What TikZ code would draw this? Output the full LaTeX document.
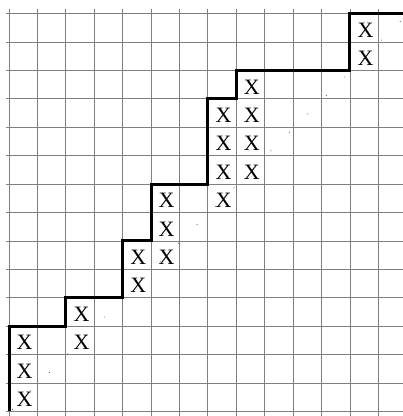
\documentclass[tikz,border=0pt]{standalone}
\usepackage{fontspec}
\setmainfont{Liberation Serif}
\usetikzlibrary{positioning}

\begin{document}
\begin{tikzpicture}[gridline/.style={gray,line width=0.7pt},
  walk/.style={line width=3pt,line join=miter},
  cellx/.style={inner sep=0pt,font=\fontsize{22}{22}\selectfont}]
  \clip (-0.317,-0.165) rectangle (13.87,14.48);
  \draw[gridline] (-0.1,-0.2) grid (13.9,14.17);
  % diagonal of small dots
  \foreach \k in {0,...,21} {\fill ({0.12+0.65*\k},{0.07+0.65*\k}) circle (0.45pt);}
  \draw[walk] (0,0) -- (0,3) -- (2,3) -- (2,4) -- (4,4) -- (4,6) -- (5,6) -- (5,8)
    -- (7,8) -- (7,11) -- (8,11) -- (8,12) -- (12,12) -- (12,14) -- (14,14);
  \foreach \c/\r in {0/0,0/1,0/2,2/2,2/3,4/4,4/5,5/5,5/6,5/7,7/7,7/8,7/9,7/10,
    8/8,8/9,8/10,8/11,12/12,12/13}
    {\node[cellx] (x\c-\r) at (\c+0.55,\r+0.42) {X};}
\end{tikzpicture}
\end{document}
